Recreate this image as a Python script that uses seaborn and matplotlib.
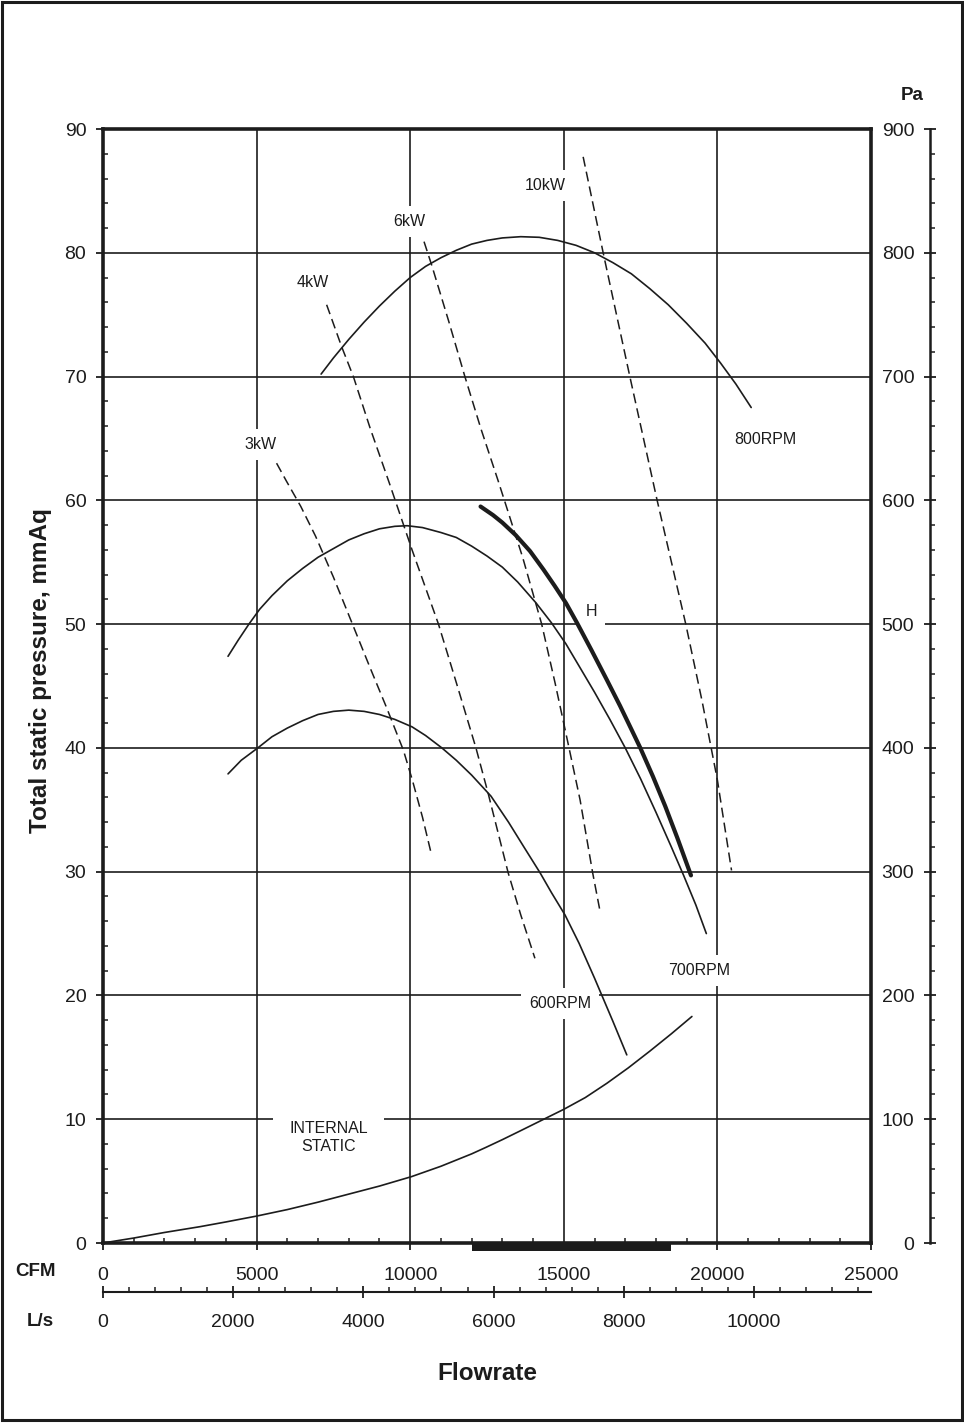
import matplotlib
matplotlib.use("Agg")
import matplotlib.pyplot as plt
import seaborn as sns
from matplotlib.patches import Rectangle
from matplotlib.ticker import MultipleLocator

# Fan curves: flow in CFM, total static pressure in mmAq
rpm800_cfm = [7100, 7500, 8000, 8500, 9000, 9500, 10000, 10500, 11000, 11500, 12000, 12500,
              13000, 13600, 14200, 14800, 15400, 16000, 16600, 17200, 17800, 18400, 19000,
              19600, 20100, 20600, 21100]
rpm800_mm = [70.2, 71.5, 73.0, 74.4, 75.7, 76.9, 78.0, 78.9, 79.6, 80.2, 80.7, 81.0,
             81.2, 81.3, 81.25, 81.0, 80.6, 80.0, 79.2, 78.3, 77.1, 75.8, 74.3,
             72.7, 71.1, 69.4, 67.5]

rpm700_cfm = [4070, 4400, 4750, 5100, 5500, 6000, 6500, 7000, 7500, 8000, 8500, 9000, 9500,
              9900, 10400, 11000, 11500, 12000, 12500, 13000, 13500, 14100, 14600, 15070,
              15500, 16000, 16500, 17000, 17500, 18000, 18500, 18900, 19300, 19640]
rpm700_mm = [47.4, 48.7, 50.0, 51.2, 52.3, 53.5, 54.5, 55.4, 56.1, 56.8, 57.3, 57.7, 57.9,
             57.95, 57.8, 57.4, 57.0, 56.3, 55.5, 54.6, 53.4, 51.7, 50.1, 48.4,
             46.6, 44.5, 42.3, 40.0, 37.5, 34.8, 32.0, 29.7, 27.3, 25.0]

rpm600_cfm = [4070, 4500, 5040, 5500, 6000, 6500, 7000, 7500, 8000, 8500, 9000, 9500, 10060,
              10500, 11030, 11500, 12000, 12630, 13200, 13700, 14230, 14600, 15040, 15500,
              16000, 16240, 16600, 17050]
rpm600_mm = [37.9, 39.0, 40.0, 40.9, 41.6, 42.2, 42.7, 42.95, 43.05, 42.95, 42.7, 42.3, 41.7,
             41.0, 40.0, 39.0, 37.8, 36.1, 34.0, 32.0, 29.9, 28.3, 26.5, 24.2,
             21.4, 20.0, 17.9, 15.2]

h_cfm = [12290, 12700, 13000, 13430, 13900, 14340, 14700, 15070, 15430, 15900, 16400, 16830,
         17200, 17490, 17900, 18300, 18700, 19140]
h_mm = [59.5, 58.8, 58.2, 57.2, 55.9, 54.4, 53.1, 51.7, 50.1, 47.9, 45.5, 43.4,
        41.5, 40.0, 37.7, 35.3, 32.7, 29.7]

internal_cfm = [0, 1000, 2000, 3160, 4000, 5010, 6000, 7000, 8000, 9000, 10040, 11000, 12000,
                12460, 13000, 13600, 14300, 15000, 15700, 16400, 17100, 17800, 18500, 19170]
internal_mm = [0, 0.4, 0.85, 1.32, 1.7, 2.18, 2.7, 3.3, 3.95, 4.6, 5.36, 6.2, 7.2,
               7.72, 8.35, 9.08, 9.94, 10.8, 11.75, 12.9, 14.15, 15.5, 16.9, 18.3]

# constant power lines (dashed)
kw3_cfm = [5650, 5960, 6440, 6920, 7500, 8120, 8690, 9240, 9780, 10070, 10400, 10700]
kw3_mm = [63.0, 61.6, 59.5, 57.1, 53.8, 50.0, 46.5, 43.2, 39.8, 37.4, 34.4, 31.3]

kw4_cfm = [7280, 7770, 8150, 8700, 9320, 10060, 10920, 11510, 12140, 12540, 13190, 13600, 14060]
kw4_mm = [75.8, 72.4, 70.0, 65.8, 61.4, 56.0, 50.0, 45.2, 40.0, 36.3, 29.9, 26.5, 23.0]

kw6_cfm = [10450, 10700, 11250, 11780, 12300, 12860, 13660, 14280, 14720, 15170, 15530, 15940,
           16180]
kw6_mm = [80.9, 79.0, 74.5, 70.0, 65.8, 61.6, 55.4, 50.0, 45.2, 40.0, 35.8, 29.9, 26.8]

kw10_cfm = [15630, 16290, 17150, 18020, 18970, 19500, 20000, 20460]
kw10_mm = [87.75, 79.9, 70.0, 60.2, 50.0, 43.8, 37.4, 30.1]

# selection range marked on the flow axis
range_bar = [12000, 18500]

CFM_PER_LS = 2.11888
MAX_CFM = 25000
MAX_MM = 90

W, H, DPI = 964, 1423, 100
INK = "#1c1c1c"


def frac(x, y):
    return x / W, 1 - y / H


def box(x0, y0, x1, y1):
    return [x0 / W, 1 - y1 / H, (x1 - x0) / W, (y1 - y0) / H]


sns.set_theme(style="white")
plt.rcParams["font.family"] = ["Liberation Sans", "DejaVu Sans"]
plt.rcParams["text.color"] = INK

fig = plt.figure(figsize=(W / DPI, H / DPI), dpi=DPI)
fig.patch.set_facecolor("white")

# main chart
ax = fig.add_axes(box(103, 129, 871, 1243))
ax.set_xlim(0, MAX_CFM)
ax.set_ylim(0, MAX_MM)
ax.set_axisbelow(True)
ax.grid(True, which="major", color=INK, linewidth=1.2)
ax.xaxis.set_major_locator(MultipleLocator(5000))
ax.xaxis.set_minor_locator(MultipleLocator(1000))
ax.yaxis.set_major_locator(MultipleLocator(10))
ax.yaxis.set_minor_locator(MultipleLocator(2))
ax.tick_params(bottom=True, left=True, top=False, right=False, which="both", colors=INK)
ax.tick_params(which="major", direction="out", length=5, width=1.3, labelsize=14)
ax.tick_params(which="minor", direction="in", length=3.6, width=1.1)
ax.tick_params(axis="x", which="major", pad=12)
ax.tick_params(axis="y", which="major", pad=7)
for side in ["left", "right", "top", "bottom"]:
    ax.spines[side].set_visible(True)
    ax.spines[side].set_color(INK)
    ax.spines[side].set_linewidth(2.6)

solid = [(rpm800_cfm, rpm800_mm), (rpm700_cfm, rpm700_mm), (rpm600_cfm, rpm600_mm),
         (internal_cfm, internal_mm)]
for xs, ys in solid:
    sns.lineplot(x=xs, y=ys, ax=ax, color=INK, linewidth=1.2, sort=False,
                 estimator=None, zorder=3)

sns.lineplot(x=h_cfm, y=h_mm, ax=ax, color=INK, linewidth=3.0, sort=False,
             estimator=None, zorder=3, solid_capstyle="round")

dashed = [(kw3_cfm, kw3_mm), (kw4_cfm, kw4_mm), (kw6_cfm, kw6_mm), (kw10_cfm, kw10_mm)]
for xs, ys in dashed:
    sns.lineplot(x=xs, y=ys, ax=ax, color=INK, linewidth=1.1, sort=False,
                 estimator=None, zorder=3, linestyle=(0, (6.5, 3.4)))

ax.add_patch(Rectangle((range_bar[0], -0.65), range_bar[1] - range_bar[0], 0.65,
                       facecolor=INK, edgecolor="none", clip_on=False, zorder=5))

label_box = dict(boxstyle="square,pad=0.5", fc="white", ec="none")
curve_labels = [
    ("3kW", 5140, 64.5), ("4kW", 6840, 77.6), ("6kW", 9980, 82.55), ("10kW", 14400, 85.4),
    ("800RPM", 21570, 64.9), ("700RPM", 19400, 22.05), ("600RPM", 14880, 19.35),
    ("H", 15890, 51.0),
]
for text, x, y in curve_labels:
    ax.text(x, y, text, ha="center", va="center", fontsize=11.5, color=INK,
            bbox=label_box, zorder=2)
ax.text(7340, 8.5, "INTERNAL\nSTATIC", ha="center", va="center", fontsize=11.5,
        color=INK, linespacing=1.25,
        bbox=dict(boxstyle="square,pad=1.0", fc="white", ec="none"), zorder=2)

# L/s scale under the CFM scale
axl = fig.add_axes(box(103, 1262, 871, 1292))
axl.set_xlim(0, MAX_CFM / CFM_PER_LS)
axl.patch.set_visible(False)
for side in ["top", "left", "right"]:
    axl.spines[side].set_visible(False)
axl.spines["bottom"].set_color(INK)
axl.spines["bottom"].set_linewidth(1.5)
axl.set_yticks([])
axl.xaxis.set_major_locator(MultipleLocator(2000))
axl.xaxis.set_minor_locator(MultipleLocator(400))
axl.tick_params(axis="x", bottom=True, which="both", colors=INK)
axl.tick_params(axis="x", which="major", direction="inout", length=8.6, width=1.3,
                labelsize=14, pad=11.5)
axl.tick_params(axis="x", which="minor", direction="in", length=3.6, width=1.1)

# Pa scale on the right
axp = fig.add_axes(box(930, 129, 960, 1243))
axp.set_ylim(0, MAX_MM * 10)
axp.patch.set_visible(False)
for side in ["top", "right", "bottom"]:
    axp.spines[side].set_visible(False)
axp.spines["left"].set_color(INK)
axp.spines["left"].set_linewidth(1.8)
axp.set_xticks([])
axp.yaxis.set_major_locator(MultipleLocator(100))
axp.yaxis.set_minor_locator(MultipleLocator(20))
axp.tick_params(axis="y", left=True, which="both", colors=INK)
axp.tick_params(axis="y", which="major", direction="inout", length=8.6, width=1.3,
                labelsize=14, pad=7)
axp.tick_params(axis="y", which="minor", direction="in", length=3.6, width=1.1)

# axis titles
fig.text(*frac(41, 671), "Total static pressure, mmAq", rotation=90, ha="center",
         va="center", fontsize=17.5, fontweight="bold")
fig.text(*frac(487, 1373), "Flowrate", ha="center", va="center", fontsize=17.5,
         fontweight="bold")
fig.text(*frac(35, 1271), "CFM", ha="center", va="center", fontsize=13.5, fontweight="bold")
fig.text(*frac(40, 1322), "L/s", ha="center", va="center", fontsize=13.5, fontweight="bold")
fig.text(*frac(912, 95), "Pa", ha="center", va="center", fontsize=13.5, fontweight="bold")

# page frame
fig.add_artist(Rectangle((1.5 / W, 1 - 1420 / H), (962 - 1.5) / W, (1420 - 1.5) / H,
                         transform=fig.transFigure, fill=False, edgecolor=INK,
                         linewidth=2.2))

fig.savefig("out.png", dpi=DPI)
